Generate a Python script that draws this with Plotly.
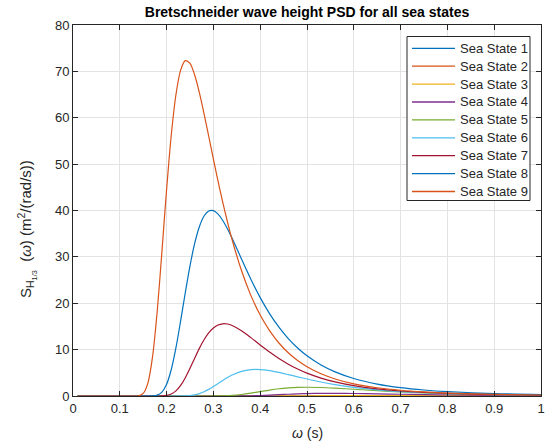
import plotly.graph_objects as go

omega = [0.01, 0.10, 0.13, 0.14, 0.15, 0.16, 0.17, 0.18, 0.19, 0.20,
         0.21, 0.22, 0.23, 0.24, 0.25, 0.26, 0.27, 0.28, 0.29, 0.30,
         0.31, 0.32, 0.33, 0.34, 0.36, 0.38, 0.40, 0.42, 0.44, 0.46,
         0.48, 0.50, 0.53, 0.56, 0.60, 0.65, 0.70, 0.75, 0.80, 0.90, 1.00]

ss1 = [0, 0, 0, 0, 0, 0, 0, 0, 0, 0,
       0, 0, 0, 0, 0, 0, 0, 0, 0, 0,
       0, 0, 0, 0, 0, 0, 0, 0, 0, 0,
       0, 0, 0, 0, 0, 0, 0, 0, 0.0001, 0.0001, 0.0001]
ss2 = [0, 0, 0, 0, 0, 0, 0, 0, 0, 0,
       0, 0, 0, 0, 0, 0, 0, 0, 0, 0,
       0, 0, 0, 0, 0, 0, 0, 0, 0, 0,
       0, 0.0003, 0.001, 0.0021, 0.0043, 0.0073, 0.0095, 0.0104, 0.0103, 0.0086, 0.0064]
ss3 = [0, 0, 0, 0, 0, 0, 0, 0, 0, 0,
       0, 0, 0, 0, 0, 0, 0, 0, 0, 0,
       0, 0, 0, 0, 0, 0, 0.0008, 0.003, 0.0076, 0.016,
       0.0272, 0.0412, 0.0636, 0.0834, 0.1009, 0.1072, 0.1013, 0.0893, 0.0757, 0.0513, 0.034]
ss4 = [0, 0, 0, 0, 0, 0, 0, 0, 0, 0,
       0, 0, 0, 0, 0, 0, 0, 0, 0, 0,
       0, 0, 0.0016, 0.004, 0.0177, 0.0514, 0.1107, 0.1924, 0.2858, 0.3775,
       0.4564, 0.5159, 0.5654, 0.5729, 0.5381, 0.46, 0.3747, 0.2979, 0.2344, 0.1446, 0.0907]
ss5 = [0, 0, 0, 0, 0, 0, 0, 0, 0, 0,
       0, 0, 0, 0, 0, 0, 0, 0, 0.0016, 0.0056,
       0.0155, 0.0361, 0.0733, 0.1323, 0.3277, 0.617, 0.956, 1.285, 1.559, 1.752,
       1.86, 1.892, 1.833, 1.692, 1.451, 1.147, 0.886, 0.678, 0.52, 0.31, 0.191]
ss6 = [0, 0, 0, 0, 0, 0, 0, 0, 0, 0,
       0, 0.0014, 0.0083, 0.0344, 0.1056, 0.257, 0.521, 0.915, 1.431, 2.039,
       2.696, 3.355, 3.972, 4.514, 5.303, 5.676, 5.696, 5.464, 5.078, 4.617,
       4.133, 3.661, 3.015, 2.463, 1.874, 1.336, 0.962, 0.702, 0.519, 0.296, 0.177]
ss7 = [0, 0, 0, 0, 0, 0, 0, 0.0023, 0.022, 0.119,
       0.423, 1.102, 2.278, 3.949, 5.981, 8.161, 10.27, 12.12, 13.59, 14.65,
       15.30, 15.57, 15.52, 15.21, 14.08, 12.59, 10.99, 9.468, 8.083, 6.867,
       5.822, 4.934, 3.858, 3.032, 2.22, 1.531, 1.078, 0.774, 0.566, 0.318, 0.189]
ss8 = [0, 0, 0, 0, 0, 0.0014, 0.024, 0.188, 0.841, 2.532,
       5.711, 10.41, 16.19, 22.32, 28.07, 32.90, 36.50, 38.81, 39.91, 39.97,
       39.21, 37.85, 36.06, 34.00, 29.56, 25.20, 21.22, 17.77, 14.83, 12.38,
       10.35, 8.667, 6.686, 5.2, 3.77, 2.578, 1.804, 1.29, 0.941, 0.527, 0.313]
ss9 = [0, 0, 0.0016, 0.052, 0.553, 2.785, 8.49, 18.34, 31.14, 44.53,
       56.29, 65.02, 70.28, 72.32, 71.74, 69.22, 65.43, 60.89, 56.01, 51.08,
       46.29, 41.76, 37.55, 33.70, 27.05, 21.70, 17.45, 14.09, 11.43, 9.324,
       7.651, 6.315, 4.787, 3.675, 2.63, 1.779, 1.236, 0.879, 0.639, 0.356, 0.211]

series = [ss1, ss2, ss3, ss4, ss5, ss6, ss7, ss8, ss9]
names = ["Sea State 1", "Sea State 2", "Sea State 3", "Sea State 4", "Sea State 5",
         "Sea State 6", "Sea State 7", "Sea State 8", "Sea State 9"]
colors = ["#0072BD", "#D95319", "#EDB120", "#7E2F8E", "#77AC30",
          "#4DBEEE", "#A2142F", "#0072BD", "#D95319"]

x_ticks = [0, 0.1, 0.2, 0.3, 0.4, 0.5, 0.6, 0.7, 0.8, 0.9, 1]
x_ticklabels = ["0", "0.1", "0.2", "0.3", "0.4", "0.5", "0.6", "0.7", "0.8", "0.9", "1"]
y_ticks = [0, 10, 20, 30, 40, 50, 60, 70, 80]

W, H = 557, 445
L, R, T, B = 73, 16, 25, 49
PW, PH = W - L - R, H - T - B
FONT = "Liberation Sans, Arial, sans-serif"
INK = "#262626"


def px(xpix):
    return (xpix - L) / PW


def py(ypix):
    return (H - B - ypix) / PH


fig = go.Figure()
for vals, name, col in zip(series, names, colors):
    fig.add_trace(go.Scatter(x=omega, y=vals, mode="lines", name=name, showlegend=False,
                             line=dict(color=col, width=1.2, shape="spline", smoothing=0.8)))

axis_common = dict(showline=True, mirror="ticks", linecolor=INK, linewidth=1,
                   ticks="inside", ticklen=5, tickcolor=INK,
                   showgrid=True, gridcolor="#e3e3e3", gridwidth=1, zeroline=False,
                   tickfont=dict(family=FONT, size=13, color=INK))

shapes = []
annotations = []

# legend box (drawn manually to match the compact MATLAB legend)
shapes.append(dict(type="rect", xref="paper", yref="paper",
                   x0=px(407), x1=px(530), y0=py(200.5), y1=py(36.5),
                   line=dict(color=INK, width=1), fillcolor="white", layer="above"))
for i, (name, col) in enumerate(zip(names, colors)):
    yc = 48.3 + i * 17.9
    shapes.append(dict(type="line", xref="paper", yref="paper",
                       x0=px(412), x1=px(455), y0=py(yc), y1=py(yc),
                       line=dict(color=col, width=1.3), layer="above"))
    annotations.append(dict(text=name, xref="paper", yref="paper",
                            x=px(458), y=py(yc), xanchor="left", yanchor="middle",
                            showarrow=False, font=dict(family=FONT, size=13, color=INK)))

# axis labels
annotations.append(dict(text="<i>ω</i> (s)", xref="paper", yref="paper",
                        x=px(307), y=py(433), xanchor="center", yanchor="middle",
                        showarrow=False, font=dict(family=FONT, size=14, color=INK)))
annotations.append(dict(text="S<sub>H<sub>1/3</sub></sub>  (<i>ω</i>) (m<sup>2</sup>/(rad/s))",
                        xref="paper", yref="paper", textangle=-90,
                        x=px(27), y=py(229), xanchor="center", yanchor="middle",
                        showarrow=False, font=dict(family=FONT, size=15, color=INK)))

fig.update_layout(
    width=W, height=H,
    margin=dict(l=L, r=R, t=T, b=B),
    paper_bgcolor="white", plot_bgcolor="white",
    title=dict(text="<b>Bretschneider wave height PSD for all sea states</b>",
               x=0.5, xref="paper", xanchor="center", y=1 - 12 / H, yanchor="middle",
               font=dict(family=FONT, size=14, color="black")),
    xaxis=dict(range=[0, 1], tickvals=x_ticks, ticktext=x_ticklabels, **axis_common),
    yaxis=dict(range=[0, 80], tickvals=y_ticks, **axis_common),
    shapes=shapes,
    annotations=annotations,
    showlegend=False,
)

fig.write_html("out.html")
